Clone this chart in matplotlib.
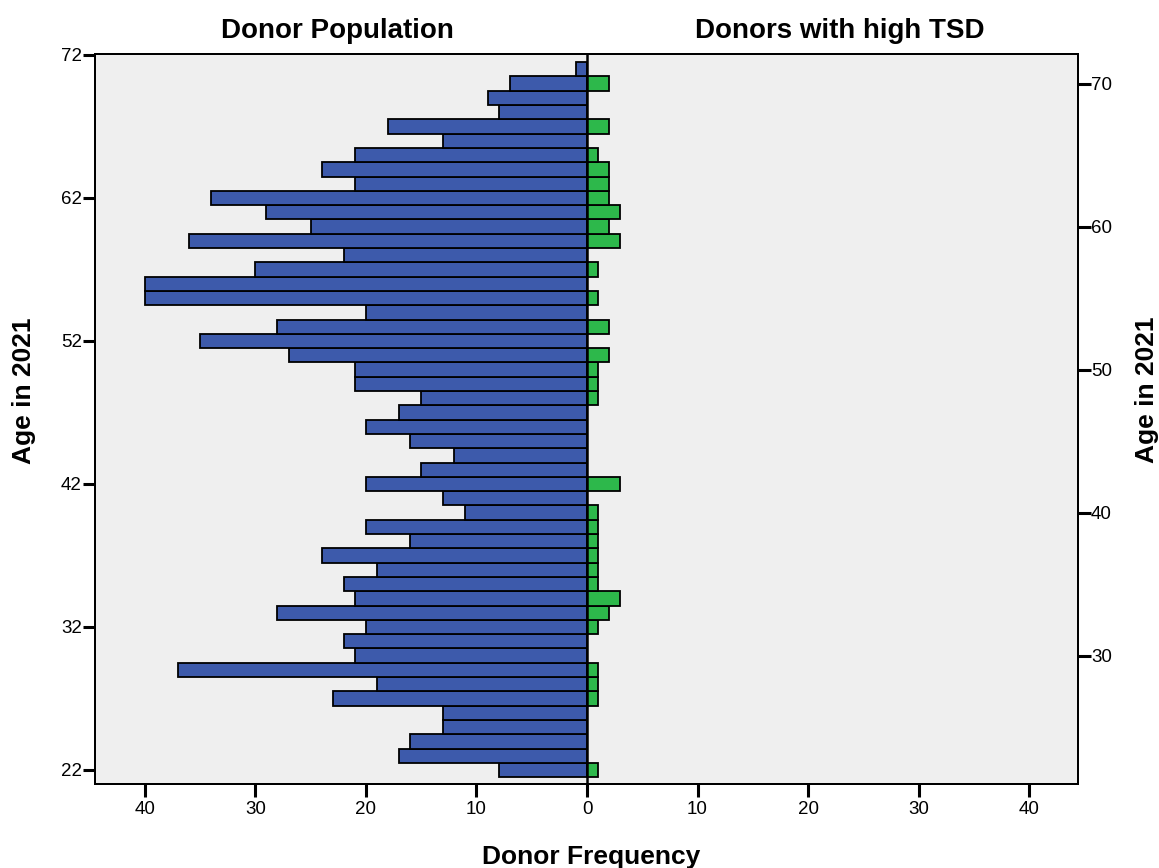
import numpy as np
import matplotlib
matplotlib.use('Agg')
import matplotlib.pyplot as plt
from matplotlib.ticker import FuncFormatter

plt.rcParams['font.family'] = ['Liberation Sans', 'DejaVu Sans']

# 各年龄的献血者人数（22 岁到 71 岁）
ages = np.arange(22, 72)
donor_population = [8, 17, 16, 13, 13, 23, 19, 37, 21, 22,
                    20, 28, 21, 22, 19, 24, 16, 20, 11, 13,
                    20, 15, 12, 16, 20, 17, 15, 21, 21, 27,
                    35, 28, 20, 40, 40, 30, 22, 36, 25, 29,
                    34, 21, 24, 21, 13, 18, 8, 9, 7, 1]
high_tsd = [1, 0, 0, 0, 0, 1, 1, 1, 0, 0,
            1, 2, 3, 1, 1, 1, 1, 1, 1, 0,
            3, 0, 0, 0, 0, 0, 1, 1, 1, 2,
            0, 2, 0, 1, 0, 1, 0, 3, 2, 3,
            2, 2, 2, 1, 0, 2, 0, 0, 2, 0]

left_ticks = [22, 32, 42, 52, 62, 72]
right_ticks = [30, 40, 50, 60, 70]
x_ticks = [-40, -30, -20, -10, 0, 10, 20, 30, 40]

blue = '#3D5AAB'
green = '#2DB84B'

fig = plt.figure(figsize=(11.59, 8.68), dpi=100)
ax = fig.add_axes([0.082, 0.0968, 0.848, 0.841])
ax.set_facecolor('#EFEFEF')

pop = np.array(donor_population)
tsd = np.array(high_tsd)
ax.barh(ages, -pop, height=1.0, color=blue, edgecolor='black', linewidth=1.3, zorder=2)
m = tsd > 0
ax.barh(ages[m], tsd[m], height=1.0, color=green, edgecolor='black', linewidth=1.3, zorder=2)
ax.axvline(0, color='black', linewidth=1.8, zorder=3)

ax.set_xlim(-44.5, 44.4)
ax.set_ylim(21.02, 72.07)
ax.set_xticks(x_ticks)
ax.xaxis.set_major_formatter(FuncFormatter(lambda v, p: '%d' % abs(v)))
ax.set_yticks(left_ticks)
ax.tick_params(axis='x', direction='out', length=9, width=2.2, labelsize=13.5, pad=3)
ax.tick_params(axis='y', direction='out', length=9, width=2.2, labelsize=13.5, pad=0.5)
for s in ax.spines.values():
    s.set_linewidth(1.4)

ax2 = ax.twinx()
ax2.set_ylim(ax.get_ylim())
ax2.set_yticks(right_ticks)
ax2.tick_params(axis='y', direction='out', length=9, width=2.2, labelsize=13.5, pad=0.5)
for s in ax2.spines.values():
    s.set_linewidth(1.4)

fig.text(337 / 1159, 1 - 31 / 868, 'Donor Population', ha='center', va='center',
         fontsize=20, fontweight='bold')
fig.text(840 / 1159, 1 - 31 / 868, 'Donors with high TSD', ha='center', va='center',
         fontsize=20, fontweight='bold')
fig.text(591 / 1159, 1 - 857 / 868, 'Donor Frequency', ha='center', va='center',
         fontsize=19, fontweight='bold')
fig.text(24 / 1159, 1 - 391 / 868, 'Age in 2021', ha='center', va='center',
         rotation=90, fontsize=19, fontweight='bold')
fig.text(1147 / 1159, 1 - 390 / 868, 'Age in 2021', ha='center', va='center',
         rotation=90, fontsize=19, fontweight='bold')

fig.savefig('out.png', dpi=100)
